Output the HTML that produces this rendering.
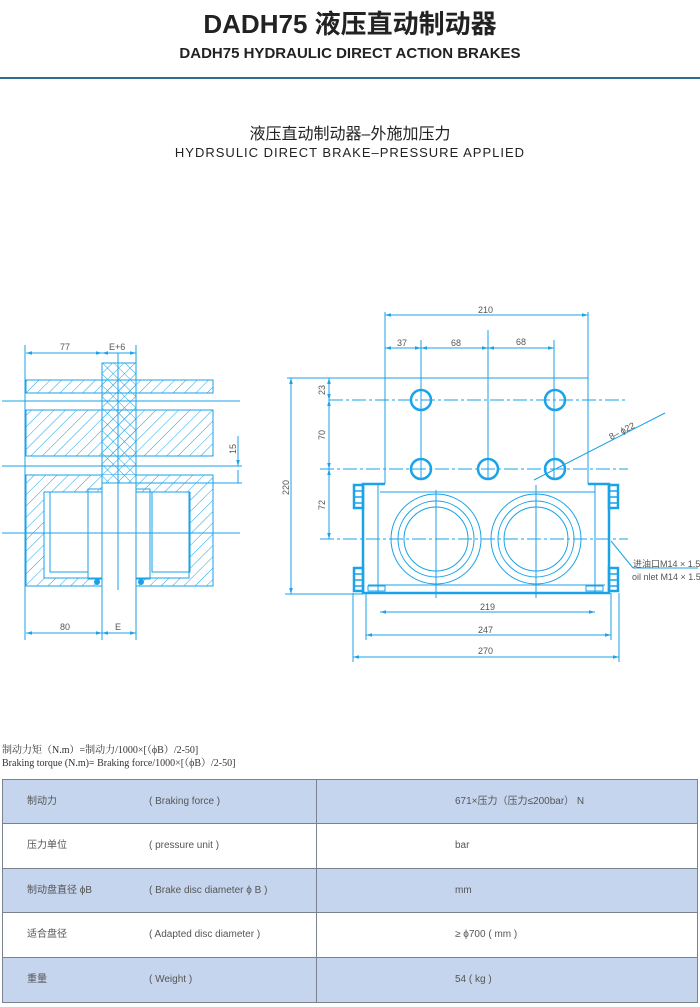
<!DOCTYPE html>
<html><head><meta charset="utf-8"><style>
body{margin:0;width:700px;height:1007px;background:#fff;position:relative;overflow:hidden;font-family:"Liberation Sans","Noto Sans CJK SC",sans-serif}
.a{position:absolute;white-space:nowrap}
.row{position:absolute;left:2px;width:694px;height:43px;border:1px solid #7a8290;border-bottom:none;font-size:10px;color:#555}
.row span{position:absolute;top:16px;line-height:12px;height:12px;display:block}
</style></head><body>
<div class="a" style="left:0;width:700px;text-align:center;top:4px;font-size:26px;font-weight:bold;color:#222">DADH75 液压直动制动器</div>
<div class="a" style="left:0;width:700px;text-align:center;top:45px;font-size:15px;font-weight:bold;color:#222">DADH75 HYDRAULIC DIRECT ACTION BRAKES</div>
<div class="a" style="left:0;top:77px;width:700px;height:2px;background:#2f6d90"></div>
<div class="a" style="left:0;width:700px;text-align:center;top:120px;font-size:16px;color:#222">液压直动制动器–外施加压力</div>
<div class="a" style="left:0;width:700px;text-align:center;top:145px;font-size:13px;color:#222;letter-spacing:1px">HYDRSULIC DIRECT BRAKE–PRESSURE APPLIED</div>

<svg class="a" style="left:0;top:0" width="700" height="700" viewBox="0 0 700 700" fill="none" stroke="#1aa3e8" stroke-width="1" font-family="Liberation Sans" font-size="9">
<defs>
<pattern id="h" width="8" height="8" patternUnits="userSpaceOnUse" patternTransform="rotate(45)"><line x1="0" y1="0" x2="0" y2="8" stroke="#1aa3e8" stroke-width="1"/></pattern>
<pattern id="x" width="8" height="8" patternUnits="userSpaceOnUse" patternTransform="rotate(45)"><line x1="0" y1="0" x2="0" y2="8" stroke="#1aa3e8"/><line x1="0" y1="0" x2="8" y2="0" stroke="#1aa3e8"/></pattern>
<marker id="m" viewBox="0 0 10 10" refX="10" refY="5" markerWidth="6" markerHeight="6" orient="auto-start-reverse"><path d="M0 2L10 5L0 8Z" fill="#1aa3e8" stroke="none"/></marker>
</defs>
<!-- LEFT -->
<rect x="26" y="380" width="187" height="13" fill="url(#h)"/>
<rect x="26" y="410" width="187" height="46" fill="url(#h)"/>
<path d="M26 475H213V586H26Z" fill="url(#h)"/>
<rect x="44" y="492" width="145" height="86" fill="#fff"/>
<rect x="50" y="492" width="38" height="80"/><rect x="88" y="489" width="14" height="90"/>
<rect x="152" y="492" width="38" height="80"/><rect x="136" y="489" width="14" height="90"/>
<rect x="102" y="475" width="34" height="112" fill="#fff" stroke="none"/>
<rect x="102" y="363" width="34" height="120" fill="url(#x)"/>
<line x1="102" y1="363" x2="102" y2="590"/><line x1="136" y1="363" x2="136" y2="590"/>
<line x1="118" y1="353" x2="118" y2="590"/>
<circle cx="97" cy="582" r="2.5" fill="#1aa3e8"/><circle cx="141" cy="582" r="2.5" fill="#1aa3e8"/>
<line x1="2" y1="401" x2="240" y2="401"/><line x1="2" y1="466" x2="242" y2="466"/><line x1="2" y1="533" x2="240" y2="533"/>
<line x1="25" y1="345" x2="25" y2="640"/>
<line x1="26" y1="353" x2="102" y2="353" marker-start="url(#m)" marker-end="url(#m)"/><line x1="102" y1="353" x2="136" y2="353" marker-start="url(#m)" marker-end="url(#m)"/><line x1="136" y1="345" x2="136" y2="363"/>
<line x1="26" y1="633" x2="102" y2="633" marker-start="url(#m)" marker-end="url(#m)"/><line x1="102" y1="633" x2="136" y2="633" marker-start="url(#m)" marker-end="url(#m)"/><line x1="102" y1="590" x2="102" y2="640"/><line x1="136" y1="590" x2="136" y2="640"/>
<line x1="238" y1="436" x2="238" y2="466" marker-end="url(#m)"/><line x1="238" y1="483" x2="238" y2="470"/><line x1="136" y1="483" x2="242" y2="483"/>
<g fill="#555" stroke="none"><text x="60" y="350">77</text><text x="109" y="350">E+6</text><text x="60" y="630">80</text><text x="115" y="630">E</text><text transform="translate(236,454) rotate(-90)">15</text></g>
<!-- RIGHT -->
<line x1="385" y1="312" x2="385" y2="484"/><line x1="588" y1="312" x2="588" y2="484"/>
<line x1="385" y1="315" x2="588" y2="315" marker-start="url(#m)" marker-end="url(#m)"/>
<line x1="385" y1="348" x2="421" y2="348" marker-start="url(#m)" marker-end="url(#m)"/><line x1="421" y1="348" x2="488" y2="348" marker-start="url(#m)" marker-end="url(#m)"/><line x1="488" y1="348" x2="554" y2="348" marker-start="url(#m)" marker-end="url(#m)"/>
<line x1="421" y1="340" x2="421" y2="480"/><line x1="488" y1="330" x2="488" y2="480"/><line x1="554" y1="340" x2="554" y2="480"/>
<line x1="287" y1="378" x2="588" y2="378"/>
<line x1="329" y1="400" x2="628" y2="400" stroke-dasharray="14 3 3 3"/>
<line x1="320" y1="469" x2="628" y2="469" stroke-dasharray="14 3 3 3"/>
<line x1="320" y1="539" x2="628" y2="539" stroke-dasharray="14 3 3 3"/>
<line x1="329" y1="378" x2="329" y2="400" marker-start="url(#m)" marker-end="url(#m)"/><line x1="329" y1="400" x2="329" y2="469" marker-start="url(#m)" marker-end="url(#m)"/><line x1="329" y1="469" x2="329" y2="539" marker-start="url(#m)" marker-end="url(#m)"/>
<line x1="291" y1="378" x2="291" y2="594" marker-start="url(#m)" marker-end="url(#m)"/><line x1="285" y1="594" x2="363" y2="594"/>
<line x1="534" y1="480" x2="665" y2="413"/>
<g stroke-width="2.5"><circle cx="421" cy="400" r="10"/><circle cx="555" cy="400" r="10"/><circle cx="421" cy="469" r="10"/><circle cx="488" cy="469" r="10"/><circle cx="555" cy="469" r="10"/>
<path d="M385 484H363V593H609V484H588"/><rect x="354" y="485" width="9" height="23"/><rect x="354" y="568" width="9" height="23"/><rect x="609" y="485" width="9" height="23"/><rect x="609" y="568" width="9" height="23"/></g>
<g stroke-width="1.5"><line x1="354" y1="491" x2="363" y2="491"/><line x1="354" y1="497" x2="363" y2="497"/><line x1="354" y1="503" x2="363" y2="503"/><line x1="354" y1="574" x2="363" y2="574"/><line x1="354" y1="580" x2="363" y2="580"/><line x1="354" y1="586" x2="363" y2="586"/>
<line x1="609" y1="491" x2="618" y2="491"/><line x1="609" y1="497" x2="618" y2="497"/><line x1="609" y1="503" x2="618" y2="503"/><line x1="609" y1="574" x2="618" y2="574"/><line x1="609" y1="580" x2="618" y2="580"/><line x1="609" y1="586" x2="618" y2="586"/></g>
<line x1="380" y1="492" x2="595" y2="492"/><line x1="368" y1="585" x2="605" y2="585"/>
<line x1="378" y1="484" x2="378" y2="593"/><line x1="595" y1="484" x2="595" y2="593"/>
<rect x="368" y="586" width="17" height="5"/><rect x="586" y="586" width="17" height="5"/>
<circle cx="436" cy="539" r="45"/><circle cx="436" cy="539" r="38"/><circle cx="436" cy="539" r="32"/>
<circle cx="536" cy="539" r="45"/><circle cx="536" cy="539" r="38"/><circle cx="536" cy="539" r="32"/>
<line x1="436" y1="490" x2="436" y2="598"/><line x1="536" y1="485" x2="536" y2="598"/>
<line x1="380" y1="612" x2="595" y2="612" marker-start="url(#m)" marker-end="url(#m)"/><line x1="366" y1="635" x2="611" y2="635" marker-start="url(#m)" marker-end="url(#m)"/><line x1="353" y1="657" x2="619" y2="657" marker-start="url(#m)" marker-end="url(#m)"/>
<line x1="366" y1="593" x2="366" y2="640"/><line x1="611" y1="593" x2="611" y2="640"/><line x1="353" y1="593" x2="353" y2="662"/><line x1="619" y1="593" x2="619" y2="662"/>
<line x1="611" y1="541" x2="633" y2="568"/><line x1="633" y1="568" x2="698" y2="568"/>
<g fill="#555" stroke="none"><text x="478" y="313">210</text><text x="397" y="346">37</text><text x="451" y="346">68</text><text x="516" y="345">68</text>
<text x="480" y="610">219</text><text x="478" y="633">247</text><text x="478" y="654">270</text>
<text transform="translate(325,395) rotate(-90)">23</text><text transform="translate(325,440) rotate(-90)">70</text><text transform="translate(325,510) rotate(-90)">72</text><text transform="translate(289,495) rotate(-90)">220</text>
<text transform="translate(611,440) rotate(-27)">8– ϕ22</text>
<text x="633" y="567" font-size="9" font-family="Liberation Sans,Noto Sans CJK SC">进油口M14 × 1.5</text><text x="632" y="580">oil nlet M14 × 1.5</text></g>
</svg>

<div class="a" style="left:2px;top:741px;font-size:10px;color:#333;font-family:'Liberation Serif','Noto Serif CJK SC',serif">制动力矩（N.m）=制动力/1000×[（ϕB）/2-50]</div>
<div class="a" style="left:2px;top:754px;font-size:10px;color:#333;font-family:'Liberation Serif','Noto Serif CJK SC',serif">Braking torque (N.m)= Braking force/1000×[（ϕB）/2-50]</div>

<div class="row" style="top:779px;background:#c6d5ee"><span style="left:24px">制动力</span><span style="left:146px">( Braking force )</span><span style="left:452px">671×压力（压力≤200bar） N</span></div>
<div class="row" style="top:823px;background:#fff;height:44px"><span style="left:24px">压力单位</span><span style="left:146px">( pressure unit )</span><span style="left:452px">bar</span></div>
<div class="row" style="top:868px;background:#c6d5ee"><span style="left:24px">制动盘直径 ϕB</span><span style="left:146px">( Brake disc diameter ϕ B )</span><span style="left:452px">mm</span></div>
<div class="row" style="top:912px;background:#fff;height:44px"><span style="left:24px">适合盘径</span><span style="left:146px">( Adapted disc diameter )</span><span style="left:452px">≥ ϕ700 ( mm )</span></div>
<div class="row" style="top:957px;background:#c6d5ee;height:44px;border-bottom:1px solid #7a8290"><span style="left:24px">重量</span><span style="left:146px">( Weight )</span><span style="left:452px">54 ( kg )</span></div>
<div class="a" style="left:316px;top:779px;width:1px;height:223px;background:#7a8290"></div>
</body></html>
